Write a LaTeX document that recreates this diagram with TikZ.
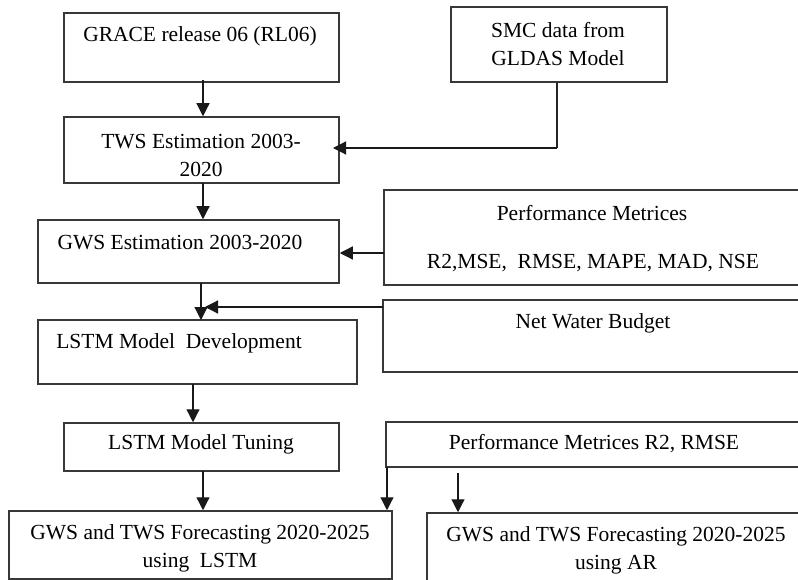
\documentclass[tikz,border=0pt]{standalone}
\usepackage{fontspec}
\setmainfont{Liberation Serif}
\usetikzlibrary{arrows.meta,fit,calc}
\begin{document}
\begin{tikzpicture}[x=1pt,y=-1pt,
  box/.style={draw=black!78,line width=1.5pt,inner sep=0pt,fit={#1}},
  txt/.style={inner sep=0pt,font=\fontsize{21.5}{28}\selectfont,align=center,text=black},
  arr/.style={draw=black!90,line width=1.2pt,-{Triangle[length=13pt,width=13pt]}},
  ln/.style={draw=black!85,line width=1.3pt}]
\useasboundingbox (0,0) rectangle (798,580);
\fill[white] (0,0) rectangle (798,580);
\clip (0,0) rectangle (798,580);
% boxes
\node[box={(64,13) (339,82)}] (grace) {};
\node[box={(451,7) (667,82)}] (smc) {};
\node[box={(64,117) (339,183)}] (tws) {};
\node[box={(38,220) (339,283)}] (gws) {};
\node[box={(384,190) (830,285)}] (pm) {};
\node[box={(383,300) (830,372)}] (nwb) {};
\node[box={(38,320) (357,384)}] (dev) {};
\node[box={(64,423) (339,471)}] (tun) {};
\node[box={(386,422) (830,467)}] (pmb) {};
\node[box={(9,511) (392,579)}] (flstm) {};
\node[box={(427,513) (830,610)}] (far) {};
% texts
\node[txt] (tgrace) at (200,36) {GRACE release 06 (RL06)};
\node[txt] (tsmc) at (558,44) {SMC data from\\GLDAS Model};
\node[txt] (ttws) at (201,155) {TWS Estimation 2003-\\2020};
\node[txt] (tgws) at (180,243) {GWS Estimation 2003-2020};
\node[txt] (tpm1) at (592,213) {Performance Metrices};
\node[txt] (tpm2) at (593,263) {R2,MSE,\ \ RMSE, MAPE, MAD, NSE};
\node[txt] (tnwb) at (593,323) {Net Water Budget};
\node[txt] (tdev) at (179,343) {LSTM Model\ \ Development};
\node[txt] (ttun) at (201,444) {LSTM Model Tuning};
\node[txt] (tpmb) at (594,444) {Performance Metrices R2, RMSE};
\node[txt] (tfl) at (200,548) {GWS and TWS Forecasting 2020-2025\\using\ \ LSTM};
\node[txt] (tfa) at (616,550) {GWS and TWS Forecasting 2020-2025\\using AR};
% connectors
\coordinate (a1) at (203,80);
\draw[arr] (a1) -- (a1 |- tws.north);
\coordinate (s1) at (557,82);
\coordinate (s2) at (557,148);
\coordinate (s3) at (333,148);
\draw[ln] (s1) -- (s2);
\draw[arr] (s2) -- (s3);
\coordinate (a2) at (203,183);
\draw[arr] (a2) -- (a2 |- gws.north);
\coordinate (p1) at (384,253);
\draw[arr] (p1) -- (p1 -| gws.east);
\coordinate (g1) at (201,283);
\draw[arr] (g1) -- (201,320);
\coordinate (n1) at (383,307);
\coordinate (n2) at (205,307);
\draw[arr] (n1) -- (n2);
\coordinate (d1) at (193,384);
\draw[arr] (d1) -- (d1 |- tun.north);
\coordinate (t1) at (203,471);
\draw[arr] (t1) -- (t1 |- flstm.north);
\coordinate (m1) at (387,467);
\draw[arr] (m1) -- (m1 |- flstm.north);
\coordinate (m2) at (458,473);
\draw[arr] (m2) -- (m2 |- far.north);
\end{tikzpicture}
\end{document}
